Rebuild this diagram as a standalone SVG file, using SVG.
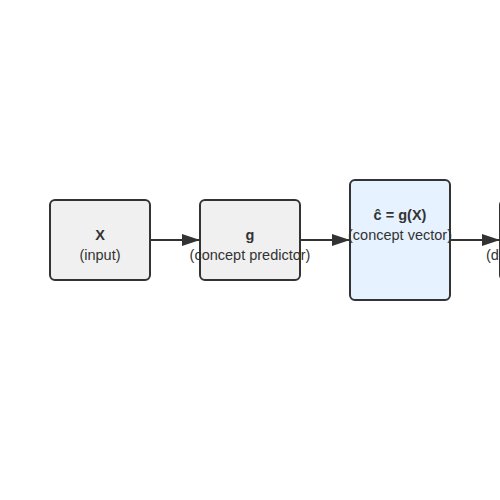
<svg xmlns="http://www.w3.org/2000/svg" width="500" height="500" viewBox="0 0 500 500">
<style>
.node{fill:#f0f0f0;stroke:#333;stroke-width:2}
.blue{fill:#e6f2ff}
.t{font-family:"Liberation Sans",Arial,sans-serif;font-size:14.5px;fill:#333;text-anchor:middle}
.b{font-weight:bold}
.edge{stroke:#333;stroke-width:2;fill:none}
</style>
<defs>
<marker id="arr" viewBox="0 0 10 10" refX="10" refY="5" markerWidth="18" markerHeight="12" markerUnits="userSpaceOnUse" orient="auto" preserveAspectRatio="none">
<path d="M0,0L10,5L0,10z" fill="#333"/>
</marker>
</defs>
<rect width="500" height="500" fill="#fff"/>
<g id="connectors">
<line class="edge" x1="150" y1="240" x2="200" y2="240" marker-end="url(#arr)"/>
<line class="edge" x1="300" y1="240" x2="350" y2="240" marker-end="url(#arr)"/>
<line class="edge" x1="450" y1="240" x2="500" y2="240" marker-end="url(#arr)"/>
</g>
<g id="node-x">
<rect class="node" x="50" y="200" width="100" height="80" rx="5"/>
<text class="t b" x="100" y="240">X</text>
<text class="t" x="100" y="260">(input)</text>
</g>
<g id="node-g">
<rect class="node" x="200" y="200" width="100" height="80" rx="5"/>
<text class="t b" x="250" y="240">g</text>
<text class="t" x="250" y="260">(concept predictor)</text>
</g>
<g id="node-c">
<rect class="node blue" x="350" y="180" width="100" height="120" rx="5"/>
<text class="t b" x="400" y="220">ĉ = g(X)</text>
<text class="t" x="400" y="240">(concept vector)</text>
</g>
<g id="node-d">
<rect class="node" x="500" y="200" width="100" height="80" rx="5"/>
<text class="t" x="486" y="260" style="text-anchor:start">(downstream task)</text>
</g>
</svg>
